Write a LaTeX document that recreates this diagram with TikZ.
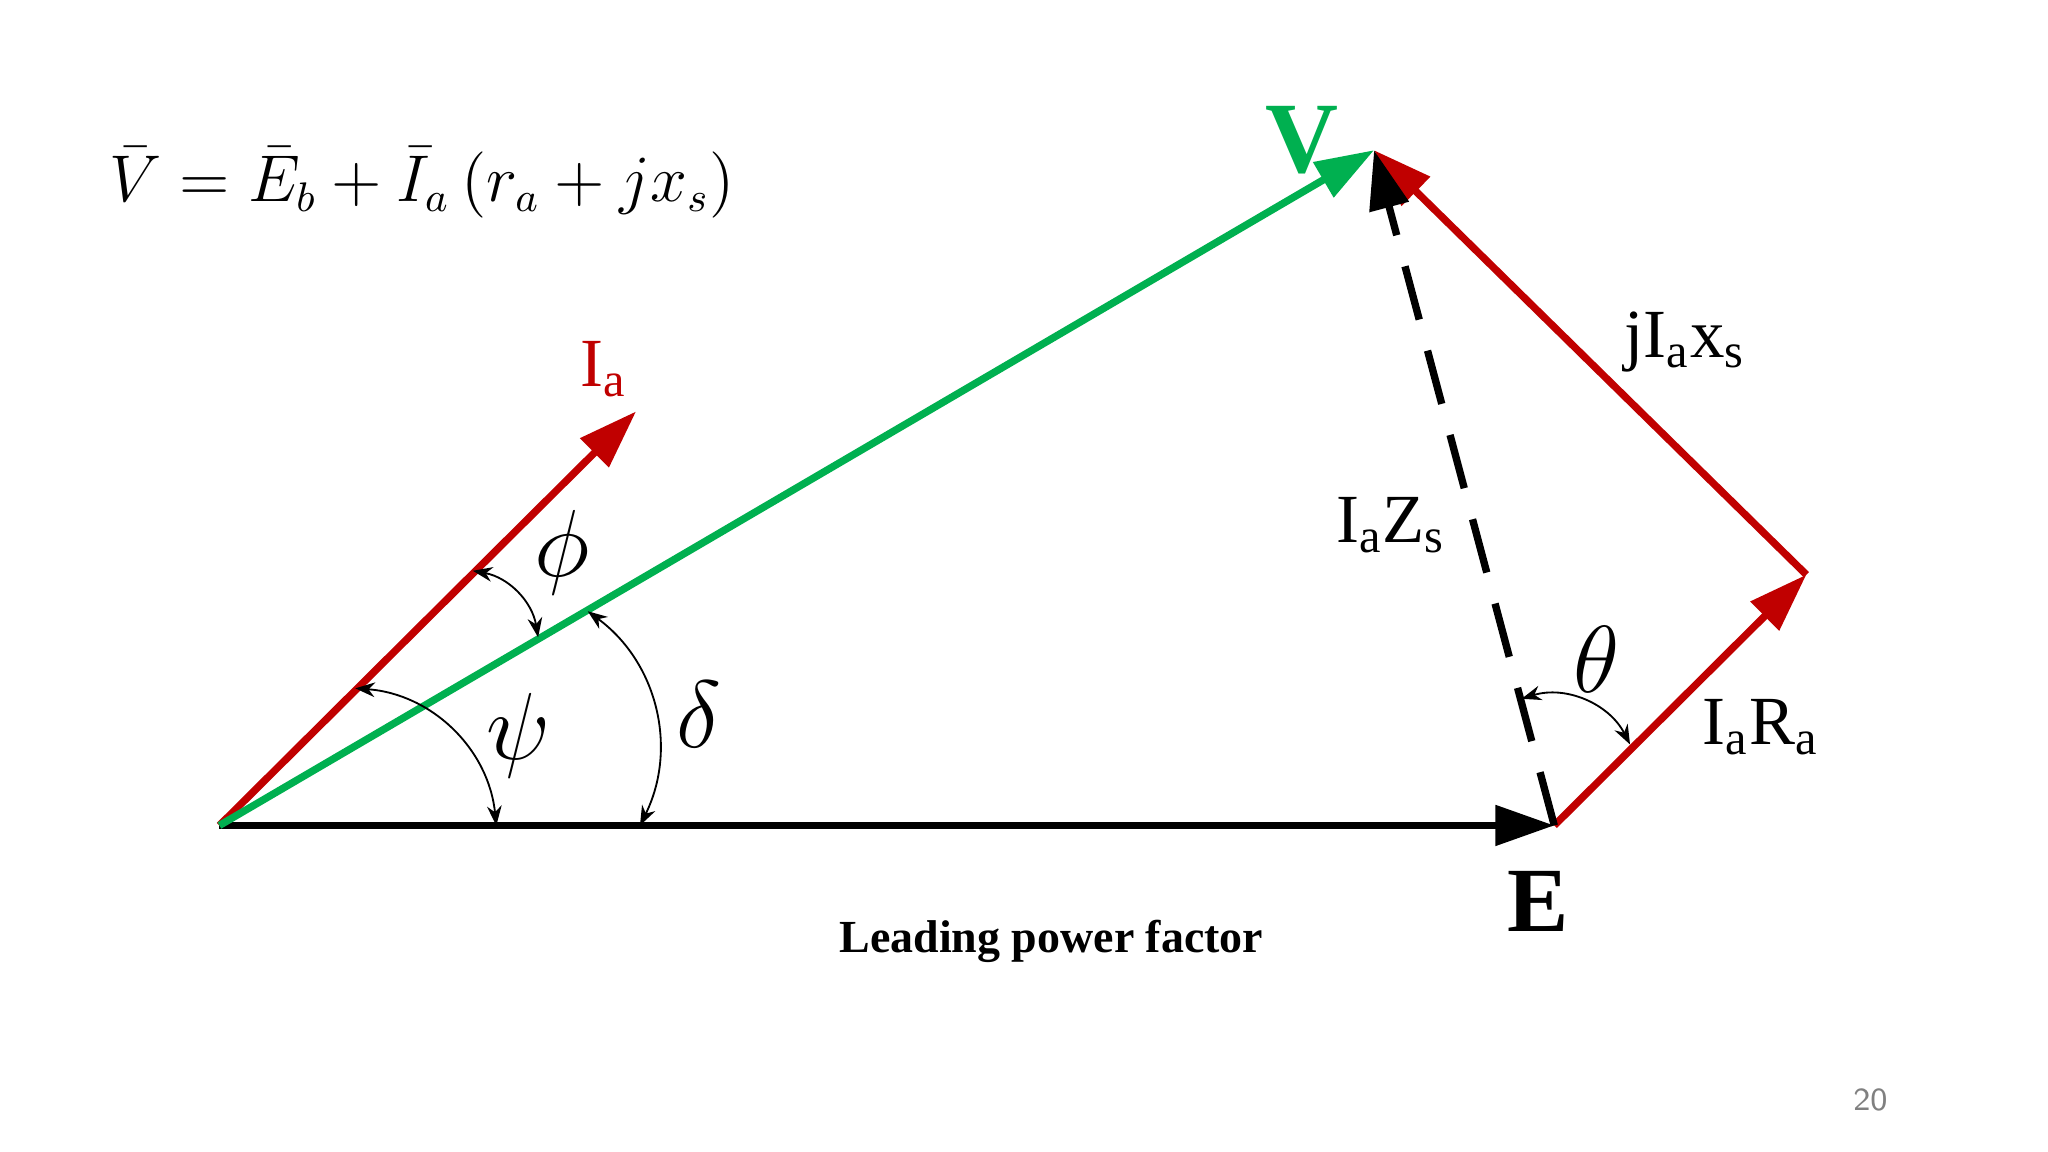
\documentclass[tikz,border=0pt]{standalone}
\usepackage{fontspec}
\setmainfont{Liberation Serif}
\usetikzlibrary{arrows.meta}
\definecolor{vgreen}{RGB}{0,176,80}
\definecolor{ired}{RGB}{192,0,0}
\tikzset{
 ph/.style={line width=1.6pt,-{Triangle[length=0.45cm,width=0.3cm]}},
 ang/.style={thin,{Stealth[length=0.15cm]}-{Stealth[length=0.15cm]}},
 lab/.style={font=\fontsize{15}{17}\selectfont},
 glab/.style={font=\fontsize{20}{22}\selectfont\itshape}
}
\begin{document}
\begin{tikzpicture}[x=0.01cm,y=-0.01cm]
\useasboundingbox (0,0) rectangle (1568,882);
\coordinate (O) at (168,632);
\coordinate (E) at (1190,632);
\coordinate (V) at (1052,115);
\coordinate (I) at (487,315);
\coordinate (R) at (1383,440);
\draw[ph,black] (O) -- (E);
\draw[ph,ired] (O) -- (I);
\draw[ph,ired] (E) -- (R);
\draw[ph,ired] (R) -- (V);
\draw[ph,black,dash pattern=on 12pt off 7pt] (E) -- (V);
\draw[ph,vgreen] (O) -- (V);
\coordinate (p1) at (362,437); \coordinate (p2) at (412,488);
\coordinate (s1) at (272,527); \coordinate (s2) at (380,632);
\coordinate (d1) at (450,468); \coordinate (d2) at (490,632);
\coordinate (t1) at (1165,535); \coordinate (t2) at (1248,570);
\draw[ang] (p1) to[bend left=35] (p2);
\draw[ang] (s1) to[bend left=40] (s2);
\draw[ang] (d1) to[bend left=40] (d2);
\draw[ang] (t1) to[bend left=40] (t2);
\node[glab] (phi) at (430,423) {$\phi$};
\node[glab] (psi) at (397,563) {$\psi$};
\node[glab] (del) at (535,547) {$\delta$};
\node[glab] (th) at (1222,505) {$\theta$};
\node[lab,font=\fontsize{22}{24}\selectfont\bfseries,text=vgreen] (vl) at (997,107) {V};
\node[lab,text=ired] (il) at (462,283) {I\textsubscript{a}};
\node[lab] (jl) at (1290,262) {jI\textsubscript{a}x\textsubscript{s}};
\node[lab] (zl) at (1065,402) {I\textsubscript{a}Z\textsubscript{s}};
\node[lab] (rl) at (1348,557) {I\textsubscript{a}R\textsubscript{a}};
\node[font=\fontsize{20}{22}\selectfont\bfseries] (el) at (1178,690) {E};
\node[font=\fontsize{10}{12}\selectfont\bfseries] (lp) at (805,721) {Leading power factor};
\node[font=\fontsize{13.5}{15}\selectfont] (eq) at (323,140) {$\bar{V}=\bar{E}_b+\bar{I}_a\left(r_a+jx_s\right)$};
\node[font=\sffamily\fontsize{7}{8}\selectfont,text=gray] (pg) at (1432,842) {20};
\end{tikzpicture}
\end{document}
